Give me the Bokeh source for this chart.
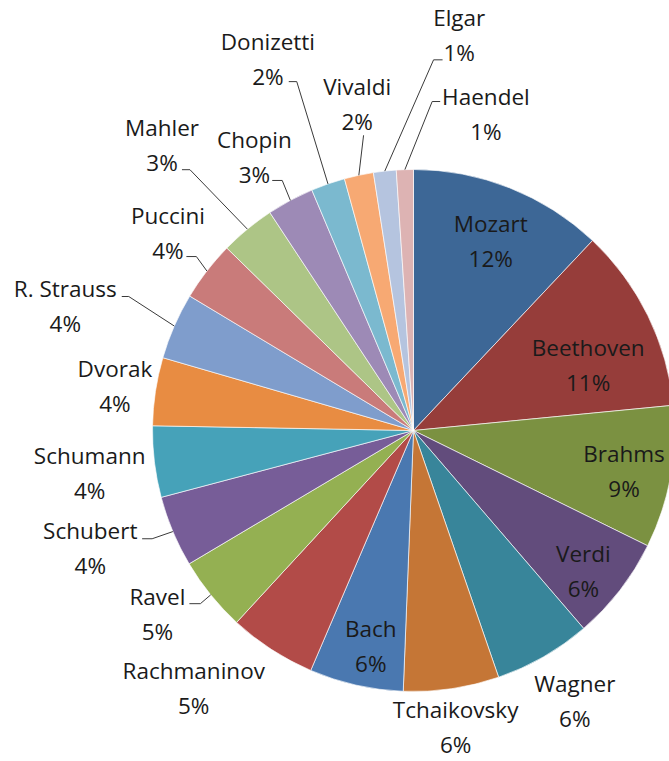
import numpy as np
from bokeh.plotting import figure
from bokeh.models import Range1d, ColumnDataSource
from bokeh.embed import file_html
from bokeh.resources import INLINE
from bokeh.core.properties import value

# ---------------- data ----------------
composers = ["Mozart", "Beethoven", "Brahms", "Verdi", "Wagner", "Tchaikovsky",
             "Bach", "Rachmaninov", "Ravel", "Schubert", "Schumann", "Dvorak",
             "R. Strauss", "Puccini", "Mahler", "Chopin", "Donizetti", "Vivaldi",
             "Elgar", "Haendel"]
shares = [12.0, 11.4, 8.8, 6.4, 6.0, 5.9, 5.8, 5.4, 4.6, 4.4, 4.4, 4.2,
          4.1, 3.7, 3.4, 2.9, 2.1, 1.8, 1.4, 1.05]
colors = ["#3D6796", "#963D3A", "#7B9141", "#624C7C", "#38859A", "#C57636",
          "#4A78B0", "#B24B48", "#94B052", "#775D98", "#46A2B9", "#E88C42",
          "#7F9DCC", "#C97B7A", "#ADC586", "#9D8AB6", "#7BB9CF", "#F7A973",
          "#B5C4DF", "#DDB3B3"]

# ---------------- layout ----------------
W, H = 669, 761
CX, CY, R = 413, 331, 261
# label block position: angle clockwise from top (deg), distance from centre (px)
label_theta = [22.2, 69.4, 100.8, 129.6, 149.2, 171.9, 191.2, 220.5, 234.4, 250.0,
               262.5, 278.5, 289.7, 308.8, 318.6, 329.8, 338.6, 350.2, 6.6, 12.9]
label_dist = [204.5, 186.6, 214.3, 220.5, 315, 299, 219.7, 338.4, 315, 344,
              326.6, 301.9, 369.8, 315.1, 380.3, 316.3, 399, 331, 397.9, 324.4]
LINE_GAP = 35
# leader lines: composer -> (elbow angle, elbow distance, horizontal stub)
leaders = {
    "Ravel": (230.9, 274.6, -11),
    "Schubert": (247.5, 282.9, -10),
    "R. Strauss": (295.2, 314.7, -7),
    "Puccini": (308.7, 278.2, -10),
    "Mahler": (319.4, 343.5, -8),
    "Chopin": (332.3, 282.4, -10),
    "Donizetti": (341.5, 367.9, -8),
    "Vivaldi": (350.4, 299.4, 0),
    "Elgar": (3.1, 371.2, 9),
    "Haendel": (3.25, 329.5, 8),
}

total = sum(shares)
frac = np.array(shares) / total
cum = np.concatenate([[0.0], np.cumsum(frac)]) * 360.0
a0, a1 = cum[:-1], cum[1:]
mid = (a0 + a1) / 2.0
pct = [f"{int(round(f * 100))}%" for f in frac]


def polar(theta, d):
    t = np.radians(theta)
    return CX + d * np.sin(t), CY + d * np.cos(t)


p = figure(width=W, height=H, x_range=Range1d(0, W), y_range=Range1d(0, H),
           output_backend="svg", toolbar_location=None, min_border=0)
p.axis.visible = False
p.grid.visible = False
p.outline_line_color = None
p.background_fill_color = "white"
p.border_fill_color = "white"

wsrc = ColumnDataSource(dict(
    start=np.radians(90 - a1), end=np.radians(90 - a0), color=colors))
p.wedge(x=CX, y=CY, radius=R, start_angle="start", end_angle="end",
        fill_color="color", line_color="white", line_width=0.8, line_alpha=0.8,
        source=wsrc)

# leader lines
xs, ys = [], []
for i, name in enumerate(composers):
    if name in leaders:
        th, d, stub = leaders[name]
        ex, ey = polar(th, d)
        px, py = polar(mid[i], R)
        xs.append([ex + stub, ex, px])
        ys.append([ey, ey, py])
p.multi_line(xs=xs, ys=ys, line_color="#3a3a3a", line_width=1)

lx, ly = polar(np.array(label_theta), np.array(label_dist))
tsrc = ColumnDataSource(dict(
    x=np.concatenate([lx, lx]),
    y=np.concatenate([ly + LINE_GAP / 2, ly - LINE_GAP / 2]),
    t=list(composers) + pct))
p.text(x="x", y="y", text="t", source=tsrc, text_align="center",
       text_baseline="middle", text_font=value("Open Sans"), text_font_size="22.5px",
       text_color="#1a1a1a")

open("out.html", "w").write(file_html(p, INLINE))
